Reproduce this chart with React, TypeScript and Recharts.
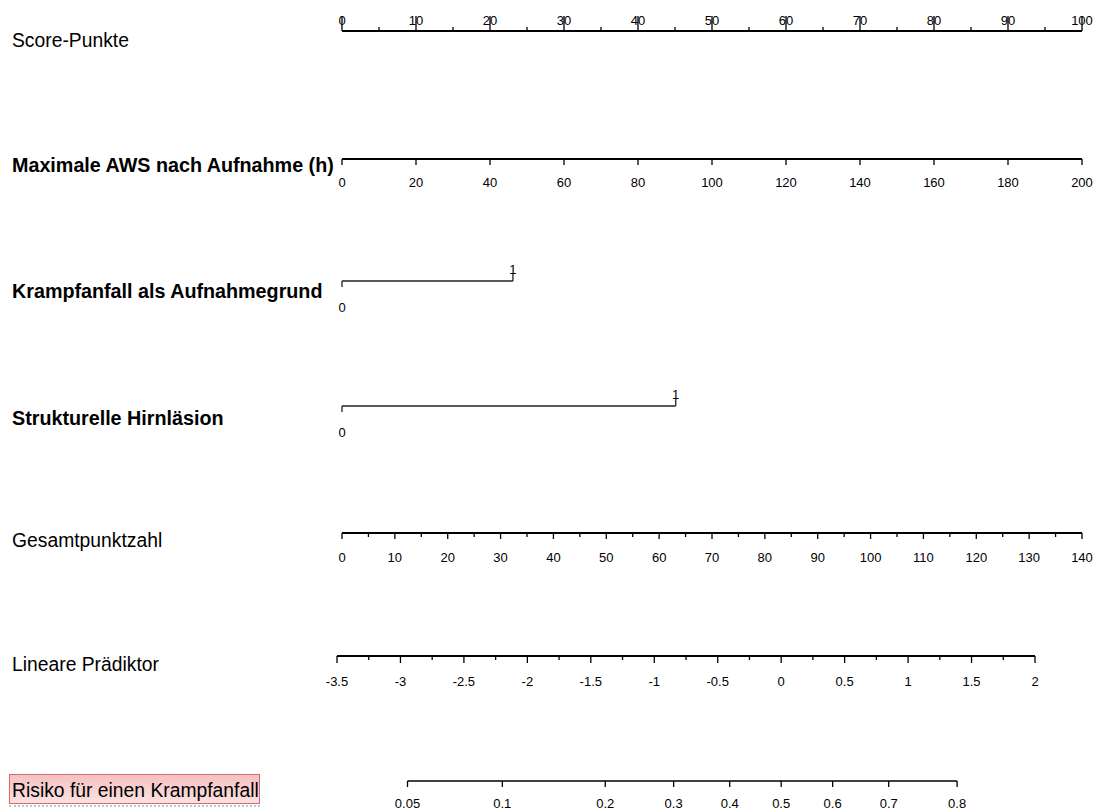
import React from "react";
import { LineChart, Line, XAxis, YAxis } from "recharts";

// points scale
const scoreTicks = [0, 10, 20, 30, 40, 50, 60, 70, 80, 90, 100];
const scoreMinor = [5, 15, 25, 35, 45, 55, 65, 75, 85, 95];

// max. AWS after admission (h)
const awsTicks = [0, 20, 40, 60, 80, 100, 120, 140, 160, 180, 200];

// binary predictors: level labels and their points
const seizureLevels = ["0", "1"];
const seizurePoints = [0, 23.1];
const lesionLevels = ["0", "1"];
const lesionPoints = [0, 45.1];

// total points
const totalTicks = [0, 10, 20, 30, 40, 50, 60, 70, 80, 90, 100, 110, 120, 130, 140];
const totalMinor = [5, 15, 25, 35, 45, 55, 65, 75, 85, 95, 105, 115, 125, 135];

// linear predictor
const lpTicks = [-3.5, -3, -2.5, -2, -1.5, -1, -0.5, 0, 0.5, 1, 1.5, 2];
const lpMinor = [-3.25, -2.75, -2.25, -1.75, -1.25, -0.75, -0.25, 0.25, 0.75, 1.25, 1.75];

// risk
const riskTicks = [0.05, 0.1, 0.2, 0.3, 0.4, 0.5, 0.6, 0.7, 0.8];

const logit = (p: number) => Math.log(p / (1 - p));
const FONT = '"Liberation Sans", Arial, sans-serif';

type Row = {
  id: string;
  title: string;
  bold?: boolean;
  titleY: number;
  axisY: number;
  left: number;
  right: number;
  domain: [number, number];
  span: [number, number];
  major: number[];
  minor: number[];
  label: (v: number, i: number) => string;
  up?: boolean;
  binary?: boolean;
  lineWidth: number;
  color: string;
  tickLen: number;
  labelDy: number;
};

const rows: Row[] = [
  {
    id: "score", title: "Score-Punkte", titleY: 47, axisY: 31, left: 342, right: 1082,
    domain: [0, 100], span: [0, 100], major: scoreTicks, minor: scoreMinor,
    label: (v) => String(v), up: true, lineWidth: 2, color: "#000", tickLen: 15, labelDy: -6,
  },
  {
    id: "aws", title: "Maximale AWS nach Aufnahme (h)", bold: true, titleY: 171.5, axisY: 159,
    left: 342, right: 1082, domain: [0, 200], span: [0, 200], major: awsTicks, minor: [],
    label: (v) => String(v), lineWidth: 2, color: "#000", tickLen: 6, labelDy: 28,
  },
  {
    id: "seizure", title: "Krampfanfall als Aufnahmegrund", bold: true, titleY: 298, axisY: 281,
    left: 342, right: 1082, domain: [0, 100], span: [seizurePoints[0], seizurePoints[1]],
    major: seizurePoints, minor: [], label: (_v, i) => seizureLevels[i], binary: true,
    lineWidth: 1.4, color: "#222", tickLen: 6, labelDy: 31,
  },
  {
    id: "lesion", title: "Strukturelle Hirnläsion", bold: true, titleY: 425, axisY: 406,
    left: 342, right: 1082, domain: [0, 100], span: [lesionPoints[0], lesionPoints[1]],
    major: lesionPoints, minor: [], label: (_v, i) => lesionLevels[i], binary: true,
    lineWidth: 1.4, color: "#222", tickLen: 6, labelDy: 31,
  },
  {
    id: "total", title: "Gesamtpunktzahl", titleY: 546.5, axisY: 533, left: 342, right: 1082,
    domain: [0, 140], span: [0, 140], major: totalTicks, minor: totalMinor,
    label: (v) => String(v), lineWidth: 2, color: "#000", tickLen: 6, labelDy: 29,
  },
  {
    id: "lp", title: "Lineare Prädiktor", titleY: 671, axisY: 656, left: 337, right: 1035,
    domain: [-3.5, 2], span: [-3.5, 2], major: lpTicks, minor: lpMinor,
    label: (v) => String(v), lineWidth: 2, color: "#000", tickLen: 7, labelDy: 30,
  },
  {
    id: "risk", title: "Risiko für einen Krampfanfall", titleY: 796.5, axisY: 781, left: 337, right: 1035,
    domain: [-3.5, 2], span: [logit(riskTicks[0]), logit(riskTicks[riskTicks.length - 1])],
    major: riskTicks.map(logit), minor: [],
    label: (v) => String(Math.round(100 / (1 + Math.exp(-v))) / 100),
    lineWidth: 1.6, color: "#000", tickLen: 6, labelDy: 27,
  },
];

function makeTick(row: Row) {
  return (props: any) => {
    const { x, y, payload } = props;
    const v = payload.value;
    const idx = row.major.indexOf(v);
    if (idx < 0) {
      const len = 4;
      return (
        <line x1={x} x2={x} y1={y} y2={row.up ? y - len : y + len} stroke={row.color} strokeWidth={1.3} />
      );
    }
    const up = row.binary ? idx > 0 : !!row.up;
    const len = row.binary && up ? 8 : row.tickLen;
    const ty = up ? y - (row.binary ? 7 : -row.labelDy) : y + row.labelDy;
    return (
      <g>
        <line x1={x} x2={x} y1={y} y2={up ? y - len : y + len} stroke={row.color} strokeWidth={1.3} />
        <text x={x} y={ty} textAnchor="middle" fontSize={13} fontFamily={FONT} fill="#000">
          {row.label(v, idx)}
        </text>
      </g>
    );
  };
}

function AxisRow({ row }: { row: Row }) {
  const yVal = row.up ? 1 : 0;
  const data = [
    { x: row.span[0], y: yVal },
    { x: row.span[1], y: yVal },
  ];
  return (
    <div style={{ position: "absolute", left: 0, top: row.axisY - 40, width: 1100, height: 80 }}>
      <LineChart
        width={1100}
        height={80}
        data={data}
        margin={{ left: row.left, right: 1100 - row.right, top: row.up ? 39 : 38, bottom: row.up ? 38 : 39 }}
      >
        <XAxis
          dataKey="x"
          type="number"
          domain={row.domain}
          ticks={[...row.major, ...row.minor]}
          interval={0}
          orientation={row.up ? "top" : "bottom"}
          height={1}
          tickSize={0}
          tickMargin={0}
          axisLine={false}
          tickLine={false}
          tick={makeTick(row)}
        />
        <YAxis hide domain={[0, 1]} />
        <Line
          dataKey="y"
          type="linear"
          stroke={row.color}
          strokeWidth={row.lineWidth}
          dot={false}
          activeDot={false}
          isAnimationActive={false}
        />
      </LineChart>
    </div>
  );
}

export default function App() {
  return (
    <div
      style={{
        position: "absolute", left: 0, top: 0, width: 1100, height: 811,
        overflow: "hidden", background: "#fff", fontFamily: FONT,
      }}
    >
      {/* highlight box behind the last title */}
      <div
        style={{
          position: "absolute", left: 9, top: 774, width: 249, height: 28,
          background: "linear-gradient(#f5c0c0, #fbe2e2)", border: "1px solid #d9686c",
        }}
      />
      <div
        style={{ position: "absolute", left: 9, top: 805, width: 251, borderTop: "2px dotted #c4c4c4" }}
      />
      <svg width={1100} height={811} style={{ position: "absolute", left: 0, top: 0 }}>
        {rows.map((r) => (
          <text
            key={r.id}
            transform={`translate(12 ${r.titleY}) scale(${r.bold ? 0.94 : 0.92} 1)`}
            fontSize={21}
            fontWeight={r.bold ? 700 : 400}
            fontFamily={FONT}
            fill="#000"
          >
            {r.title}
          </text>
        ))}
      </svg>
      {rows.map((r) => (
        <AxisRow key={r.id} row={r} />
      ))}
    </div>
  );
}
